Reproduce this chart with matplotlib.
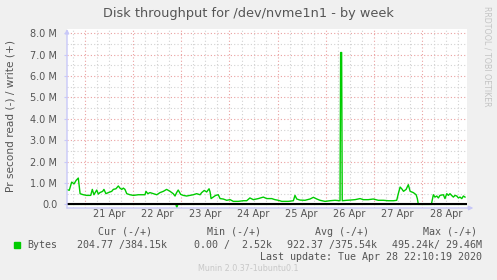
import matplotlib
matplotlib.use('Agg')
import matplotlib.pyplot as plt
from matplotlib.ticker import MultipleLocator, NullFormatter, FuncFormatter
from matplotlib.patches import Rectangle

# ---------------- data ----------------
title = "Disk throughput for /dev/nvme1n1 - by week"
ylabel = "Pr second read (-) / write (+)"
day_labels = ["21 Apr", "22 Apr", "23 Apr", "24 Apr", "25 Apr", "26 Apr", "27 Apr", "28 Apr"]

# hours since 21 Apr 00:00, values in MB/s (write, positive)
write_hours = [-9.3, -8.0, -6.8, -5.6, -4.6, -3.5, -2.6, -1.0, 0.7, 2.7, 3.5, 4.3, 5.7, 6.5, 7.3,
               8.7, 9.3, 10.3, 11.5, 13.2, 14.0, 15.3, 16.5, 17.3, 18.2, 19.0, 19.8, 20.7, 22.3,
               24.0, 26.5, 28.2, 29.8, 30.3, 31.2, 32.3, 34.0, 35.7, 37.3, 39.0, 40.6, 42.3, 43.9,
               44.8, 45.6, 46.4, 47.6, 48.9, 50.6, 52.3, 53.9, 55.6, 57.3, 58.1, 59.4, 60.6, 61.8,
               62.3, 62.8, 63.9, 65.1, 66.4, 67.3, 68.9, 70.6, 72.3, 73.9, 76.4, 78.9, 80.6, 82.2,
               83.9, 86.4, 88.9, 90.6, 93.1, 94.7, 96.4, 98.1, 101.4, 103.9, 104.7, 105.6, 107.2,
               109.7, 112.2, 113.9, 115.6, 117.2, 119.7, 122.2, 124.7, 127.2, 127.5, 128.0, 128.3,
               130.5, 132.2, 134.7, 137.2, 138.8, 141.3, 143.8, 146.3, 148.8, 151.3, 153.9, 155.5,
               156.3, 157.2, 158.0, 158.9, 160.2, 161.3, 162.2, 163.8, 165.2, 165.8, 166.3, 172.8,
               173.8, 174.6, 175.5, 176.3, 177.1, 178.8, 179.6, 180.5, 181.3, 182.1, 182.9, 183.8,
               184.6, 185.5, 186.3, 187.1, 188.0, 188.8, 189.6]
write_mb = [0.69, 0.66, 1.04, 0.96, 1.12, 1.23, 0.50, 0.45, 0.42, 0.42, 0.70, 0.45, 0.67, 0.48, 0.55,
            0.61, 0.70, 0.50, 0.55, 0.61, 0.70, 0.73, 0.86, 0.76, 0.70, 0.76, 0.70, 0.50, 0.45,
            0.42, 0.45, 0.45, 0.45, 0.61, 0.50, 0.55, 0.50, 0.45, 0.55, 0.61, 0.70, 0.61, 0.50,
            0.39, 0.55, 0.67, 0.47, 0.42, 0.39, 0.42, 0.45, 0.50, 0.45, 0.55, 0.65, 0.58, 0.73,
            0.58, 0.27, 0.34, 0.42, 0.45, 0.27, 0.25, 0.19, 0.22, 0.14, 0.14, 0.17, 0.17, 0.30,
            0.22, 0.27, 0.34, 0.27, 0.27, 0.22, 0.19, 0.14, 0.14, 0.17, 0.42, 0.25, 0.20,
            0.19, 0.25, 0.33, 0.25, 0.19, 0.14, 0.17, 0.19, 0.17, 7.10, 7.10, 0.17,
            0.19, 0.20, 0.22, 0.27, 0.22, 0.22, 0.25, 0.19, 0.19, 0.17, 0.17, 0.19,
            0.50, 0.81, 0.73, 0.61, 0.70, 0.92, 0.61, 0.55, 0.45, 0.27, 0.00, 0.00,
            0.45, 0.34, 0.39, 0.30, 0.42, 0.45, 0.27, 0.50, 0.42, 0.50, 0.42, 0.34,
            0.42, 0.39, 0.30, 0.34, 0.27, 0.39, 0.34]

# read (negative)
read_hours = [-9.3, 45.2, 45.7, 46.2, 190.2]
read_mb = [0.0, 0.0, -0.15, 0.0, 0.0]

legend_headers = ["Cur (-/+)", "Min (-/+)", "Avg (-/+)", "Max (-/+)"]
legend_name = "Bytes"
legend_values = ["204.77 /384.15k", "0.00 /  2.52k", "922.37 /375.54k", "495.24k/ 29.46M"]
last_update = "Last update: Tue Apr 28 22:10:19 2020"
footer = "Munin 2.0.37-1ubuntu0.1"
watermark = "RRDTOOL / TOBI OETIKER"

# ---------------- figure ----------------
W, H = 497, 280
GREEN = '#00CC00'
TXT = '#555555'
LAV = '#C8C8F8'

fig = plt.figure(figsize=(W / 100, H / 100), dpi=100, facecolor='#F0F0F0')
ax = fig.add_axes([67 / W, 1 - 208 / H, 400 / W, 179 / H])
ax.set_facecolor('white')
ax.set_xlim(-9.14, 190.6)
ax.set_ylim(-0.17, 8.2)

for s in ax.spines.values():
    s.set_visible(False)

ax.xaxis.set_major_locator(MultipleLocator(24))
ax.xaxis.set_minor_locator(MultipleLocator(6))
ax.yaxis.set_major_locator(MultipleLocator(1))
ax.yaxis.set_minor_locator(MultipleLocator(0.5))
ax.xaxis.set_major_formatter(NullFormatter())
ax.yaxis.set_major_formatter(FuncFormatter(lambda v, p: "0.0" if abs(v) < 1e-9 else f"{v:.1f} M"))

ax.grid(which='major', color='#EAA0A0', linestyle=(0, (1, 2)), lw=0.8)
ax.grid(which='minor', color='#D2D2D2', linestyle=(0, (1, 2)), lw=0.8)
ax.set_axisbelow(True)

ax.tick_params(axis='x', which='both', length=0)
ax.tick_params(axis='y', which='minor', length=0)
ax.tick_params(axis='y', which='major', length=2, color=LAV, pad=5, labelsize=7, labelcolor=TXT)

ax.plot(write_hours, write_mb, color=GREEN, lw=1.0, zorder=2)
ax.plot(read_hours, read_mb, color=GREEN, lw=1.0, zorder=2)
ax.axhline(0, color='black', lw=1.5, zorder=3)

# axis lines with arrows
ax.annotate('', xy=(0, 1.0), xytext=(0, 0), xycoords='axes fraction',
            arrowprops=dict(arrowstyle='-|>', color=LAV, lw=1.0, mutation_scale=6, shrinkA=0, shrinkB=0),
            annotation_clip=False)
ax.annotate('', xy=(1.016, 0), xytext=(0, 0), xycoords='axes fraction',
            arrowprops=dict(arrowstyle='-|>', color=LAV, lw=1.0, mutation_scale=6, shrinkA=0, shrinkB=0),
            annotation_clip=False)

# day labels centered at noon
xt = ax.get_xaxis_transform()
for i, lab in enumerate(day_labels):
    ax.text(12 + 24 * i, -0.036, lab, transform=xt, ha='center', va='center', fontsize=7, color=TXT)


def fp(x, y):
    return (x / W, 1 - y / H)


fig.text(*fp(248, 13.5), title, ha='center', va='center', fontsize=9.3, color=TXT)
fig.text(*fp(10.7, 116), ylabel, ha='center', va='center', rotation=90, fontsize=7.6, color=TXT)
fig.text(*fp(487, 56), watermark, ha='center', va='center', rotation=270, fontsize=5.7, color='#C4C4C4')

mono = 'DejaVu Sans Mono'
for cx, h in zip([125, 233.6, 341.7, 450], legend_headers):
    fig.text(*fp(cx, 232), h, ha='center', va='center', fontsize=7.2, family=mono, color=TXT)

fig.add_artist(Rectangle(fp(14, 247.7), 6 / W, 6 / H, transform=fig.transFigure, color=GREEN))
fig.text(*fp(27, 245), legend_name, ha='left', va='center', fontsize=7.2, family=mono, color=TXT)
for lx, v in zip([77, 194, 287, 392], legend_values):
    fig.text(*fp(lx, 245), v, ha='left', va='center', fontsize=7.2, family=mono, color=TXT)

fig.text(*fp(482.5, 257), last_update, ha='right', va='center', fontsize=7.2, family=mono, color=TXT)
fig.text(*fp(248, 268.5), footer, ha='center', va='center', fontsize=5.8, color='#C8C8C8')

fig.savefig('out.png', dpi=100, facecolor=fig.get_facecolor())
